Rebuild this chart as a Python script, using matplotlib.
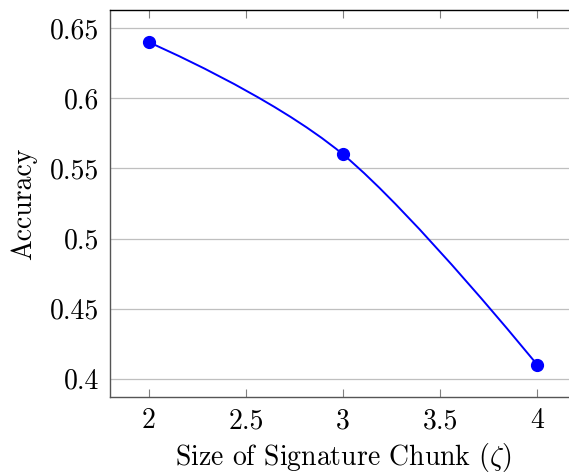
import numpy as np
import matplotlib
matplotlib.use("Agg")
import matplotlib.pyplot as plt
from matplotlib.path import Path
from matplotlib.patches import PathPatch

plt.rcParams['font.family'] = 'serif'
plt.rcParams['font.serif'] = ['cmr10']
plt.rcParams['mathtext.fontset'] = 'cm'
plt.rcParams['axes.formatter.use_mathtext'] = True

chunk_size = [2, 3, 4]
accuracy = [0.64, 0.56, 0.41]
x_ticks = [2, 2.5, 3, 3.5, 4]
x_tick_labels = ['2', '2.5', '3', '3.5', '4']
y_ticks = [0.4, 0.45, 0.5, 0.55, 0.6, 0.65]
y_tick_labels = ['0.4', '0.45', '0.5', '0.55', '0.6', '0.65']

W, H = 569, 476
fig = plt.figure(figsize=(W / 100, H / 100), dpi=100)
ax = fig.add_axes([110 / W, (H - 397) / H, (576 - 110) / W, (397 - 10) / H])

blue = '#0000ff'


def smooth_path(xs, ys, tension=0.55):
    # cubic Bezier smoothing in the style of TikZ "smooth" plots
    pts = np.column_stack([xs, ys]).astype(float)
    f = tension / 3.0
    n = len(pts)
    verts = [pts[0]]
    codes = [Path.MOVETO]
    for i in range(n - 1):
        p0, p1 = pts[i], pts[i + 1]
        if i == 0:
            c1 = p0
        else:
            c1 = p0 + f * (pts[i + 1] - pts[i - 1])
        if i + 1 == n - 1:
            c2 = p1
        else:
            c2 = p1 - f * (pts[i + 2] - pts[i])
        verts += [c1, c2, p1]
        codes += [Path.CURVE4] * 3
    return Path(verts, codes)


ax.add_patch(PathPatch(smooth_path(chunk_size, accuracy), facecolor='none',
                       edgecolor=blue, lw=1.4, zorder=3))
ax.plot(chunk_size, accuracy, 'o', color=blue, markersize=8.5, zorder=4,
        linestyle='none')

ax.set_xlim(1.8, 4.2)
ax.set_ylim(0.387, 0.663)
ax.set_xticks(x_ticks)
ax.set_xticklabels(x_tick_labels)
ax.set_yticks(y_ticks)
ax.set_yticklabels(y_tick_labels)

ax.yaxis.grid(True, color='#bfbfbf', lw=0.9)
ax.set_axisbelow(True)

ax.tick_params(axis='x', which='both', direction='in', top=True, bottom=True,
               length=6, width=0.8, color='#808080', labelsize=20, pad=8)
ax.tick_params(axis='y', which='both', direction='in', left=True, right=False,
               length=0, labelsize=20, pad=8)

for side in ['left', 'bottom']:
    ax.spines[side].set_color('#555555')
    ax.spines[side].set_linewidth(1.0)
ax.spines['top'].set_color('black')
ax.spines['top'].set_linewidth(1.0)
ax.spines['right'].set_visible(False)

ax.set_xlabel(r'Size of Signature Chunk ($\zeta$)', fontsize=20, labelpad=5)
ax.set_ylabel('Accuracy', fontsize=20, labelpad=9)

fig.savefig('out.png', dpi=100)
